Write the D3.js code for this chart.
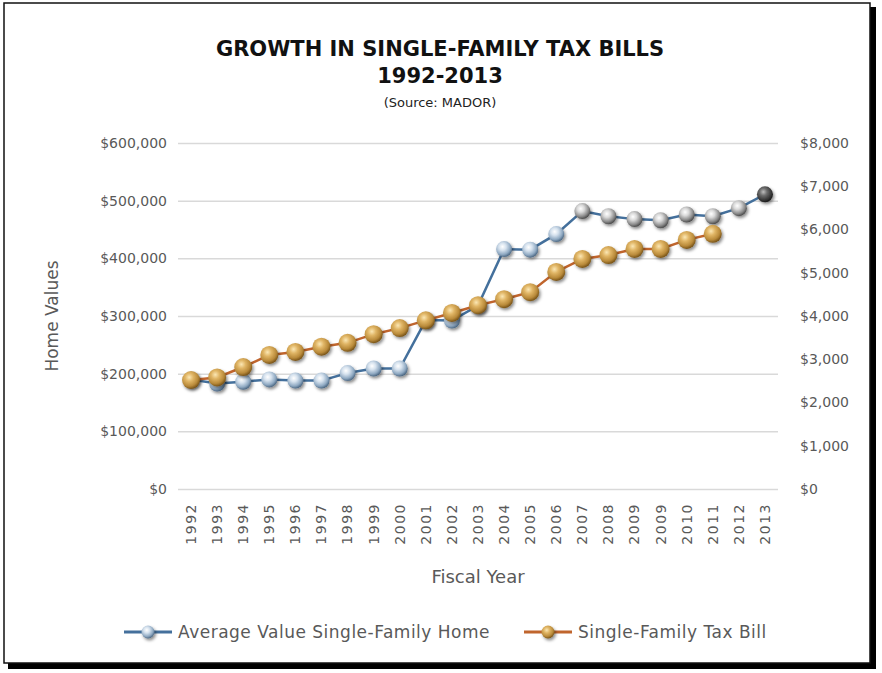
<!DOCTYPE html>
<html>
 <head>
   <meta charset="utf-8">
   <title>Growth in Single-Family Tax Bills</title>
   <script src="https://cdn.jsdelivr.net/npm/d3@7/dist/d3.min.js"></script>
   <style>
     body { margin: 0; background: #fff; }
     svg text { font-family: "DejaVu Sans", sans-serif; }
   </style>
 </head>
 <body>
  <script>
    // fiscal years as printed (2009 appears twice in the source chart)
    var years = ["1992","1993","1994","1995","1996","1997","1998","1999","2000","2001",
                 "2002","2003","2004","2005","2006","2007","2008","2009","2009","2010",
                 "2011","2012","2013"];
    // average value single-family home (left axis)
    var homeValues = [190000,183000,186000,190000,188000,188000,201000,209000,209000,293000,
                      292000,318000,416000,415000,442000,482000,473000,468000,466000,476000,
                      473000,487000,511000];
    // single-family tax bill (right axis); no value shown for 2012-2013
    var taxBills = [2520,2580,2820,3100,3170,3290,3380,3580,3720,3900,
                    4070,4250,4390,4550,5020,5320,5410,5550,5550,5760,
                    5900,null,null];
    var leftTicks  = [0,100000,200000,300000,400000,500000,600000];
    var rightTicks = [0,1000,2000,3000,4000,5000,6000,7000,8000];
    var seriesNames = ["Average Value Single-Family Home", "Single-Family Tax Bill"];

    var width = 882, height = 673;
    var plotL = 178, plotR = 778, plotT = 143, plotB = 489;

    var svg = d3.select("body").append("svg")
                .attr("width", width)
                .attr("height", height);

    var defs = svg.append("defs");
    function ball(id, stops) {
      var g = defs.append("radialGradient").attr("id", id)
                  .attr("cx", "40%").attr("cy", "35%").attr("r", "65%");
      stops.forEach(function(s) {
        g.append("stop").attr("offset", s[0]).attr("stop-color", s[1]);
      });
    }
    ball("ballBlue",  [["0%","#ffffff"],["35%","#d6e2ee"],["75%","#8fa9c2"],["100%","#4f6a85"]]);
    ball("ballGray",  [["0%","#ffffff"],["35%","#d9d9d9"],["75%","#8c8c8c"],["100%","#4d4d4d"]]);
    ball("ballDark",  [["0%","#bdbdbd"],["35%","#6e6e6e"],["75%","#3a3a3a"],["100%","#1a1a1a"]]);
    ball("ballOrange",[["0%","#fbe7b4"],["35%","#e0b565"],["75%","#b98a3a"],["100%","#7a5519"]]);
    var sh = defs.append("filter").attr("id", "shadow")
                 .attr("x", "-50%").attr("y", "-50%").attr("width", "200%").attr("height", "200%");
    sh.append("feDropShadow").attr("dx", 1.5).attr("dy", 2).attr("stdDeviation", 1.6)
      .attr("flood-color", "#000").attr("flood-opacity", 0.45);

    // frame
    svg.append("rect").attr("x", 8).attr("y", 7).attr("width", 868).attr("height", 662).attr("fill", "#000");
    svg.append("rect").attr("x", 4).attr("y", 3).attr("width", 866).attr("height", 660)
       .attr("fill", "#fff").attr("stroke", "#111").attr("stroke-width", 1.5);

    // titles
    svg.append("text").attr("x", 440).attr("y", 56).attr("text-anchor", "middle")
       .style("font-size", "21px").style("font-weight", "bold").attr("fill", "#111")
       .text("GROWTH IN SINGLE-FAMILY TAX BILLS");
    svg.append("text").attr("x", 440).attr("y", 83).attr("text-anchor", "middle")
       .style("font-size", "21px").style("font-weight", "bold").attr("fill", "#111")
       .text("1992-2013");
    svg.append("text").attr("x", 440).attr("y", 107).attr("text-anchor", "middle")
       .style("font-size", "13px").attr("fill", "#222")
       .text("(Source: MADOR)");

    var x = d3.scaleBand().domain(d3.range(years.length)).range([plotL, plotR]);
    var cx = function(i) { return x(i) + x.bandwidth() / 2; };
    var yL = d3.scaleLinear().domain([0, 600000]).range([plotB, plotT]);
    var yR = d3.scaleLinear().domain([0, 8000]).range([plotB, plotT]);

    // gridlines
    svg.append("g").attr("transform", "translate(" + plotL + ",0)")
       .call(d3.axisLeft(yL).tickValues(leftTicks).tickSize(-(plotR - plotL)).tickFormat(""))
       .call(function(g) {
         g.select(".domain").remove();
         g.selectAll("line").attr("stroke", "#d9d9d9").attr("stroke-width", 1.5);
       });

    // left axis
    svg.append("g").attr("transform", "translate(" + (plotL - 8) + ",0)")
       .call(d3.axisLeft(yL).tickValues(leftTicks).tickSize(0).tickFormat(d3.format("$,")))
       .call(function(g) {
         g.select(".domain").remove();
         g.selectAll("text").attr("fill", "#595959").style("font-size", "14px");
       });

    // right axis
    svg.append("g").attr("transform", "translate(" + (plotR + 19) + ",0)")
       .call(d3.axisRight(yR).tickValues(rightTicks).tickSize(0).tickFormat(d3.format("$,")))
       .call(function(g) {
         g.select(".domain").remove();
         g.selectAll("text").attr("fill", "#595959").style("font-size", "14px");
       });

    // x axis
    svg.append("g").attr("transform", "translate(0," + plotB + ")")
       .call(d3.axisBottom(x).tickSize(0).tickFormat(function(i) { return years[i]; }))
       .call(function(g) {
         g.select(".domain").remove();
         g.selectAll("text")
          .attr("transform", "rotate(-90)")
          .attr("x", -14).attr("y", 0).attr("dy", "0.35em")
          .attr("text-anchor", "end")
          .attr("fill", "#595959")
          .style("font-size", "14px")
          .style("letter-spacing", "1.5px");
       });

    svg.append("text").attr("x", (plotL + plotR) / 2).attr("y", 583).attr("text-anchor", "middle")
       .attr("fill", "#595959").style("font-size", "18px").text("Fiscal Year");
    svg.append("text").attr("transform", "translate(58," + ((plotT + plotB) / 2) + ") rotate(-90)")
       .attr("text-anchor", "middle").attr("fill", "#595959").style("font-size", "17px")
       .text("Home Values");

    // lines
    var homeLine = d3.line().x(function(d, i) { return cx(i); }).y(function(d) { return yL(d); });
    var taxLine = d3.line().defined(function(d) { return d != null; })
                    .x(function(d, i) { return cx(i); }).y(function(d) { return yR(d); });

    svg.append("path").datum(homeValues).attr("d", homeLine)
       .attr("fill", "none").attr("stroke", "#44709c").attr("stroke-width", 2.5);
    svg.append("g").selectAll("circle").data(homeValues).join("circle")
       .attr("cx", function(d, i) { return cx(i); })
       .attr("cy", function(d) { return yL(d); })
       .attr("r", 8)
       .attr("fill", function(d, i) {
         return i == years.length - 1 ? "url(#ballDark)" : (i >= 15 ? "url(#ballGray)" : "url(#ballBlue)");
       })
       .attr("filter", "url(#shadow)");

    svg.append("path").datum(taxBills).attr("d", taxLine)
       .attr("fill", "none").attr("stroke", "#c0652d").attr("stroke-width", 2.5);
    svg.append("g").selectAll("circle").data(taxBills.map(function(d, i) { return [i, d]; })
                                                     .filter(function(p) { return p[1] != null; }))
       .join("circle")
       .attr("cx", function(p) { return cx(p[0]); })
       .attr("cy", function(p) { return yR(p[1]); })
       .attr("r", 9)
       .attr("fill", "url(#ballOrange)")
       .attr("filter", "url(#shadow)");

    // legend
    var legend = [
      {name: seriesNames[0], x: 124, color: "#44709c", fill: "url(#ballBlue)"},
      {name: seriesNames[1], x: 524, color: "#c0652d", fill: "url(#ballOrange)"}
    ];
    var lg = svg.append("g").selectAll("g").data(legend).join("g")
                .attr("transform", function(d) { return "translate(" + d.x + ",632)"; });
    lg.append("line").attr("x1", 0).attr("x2", 48).attr("y1", 0).attr("y2", 0)
      .attr("stroke", function(d) { return d.color; }).attr("stroke-width", 3);
    lg.append("circle").attr("cx", 24).attr("cy", 0).attr("r", 6.5)
      .attr("fill", function(d) { return d.fill; }).attr("filter", "url(#shadow)");
    lg.append("text").attr("x", 54).attr("y", 0).attr("dy", "0.35em")
      .attr("fill", "#595959").style("font-size", "17px").style("letter-spacing", "0.5px")
      .text(function(d) { return d.name; });
  </script>
 </body>
</html>
